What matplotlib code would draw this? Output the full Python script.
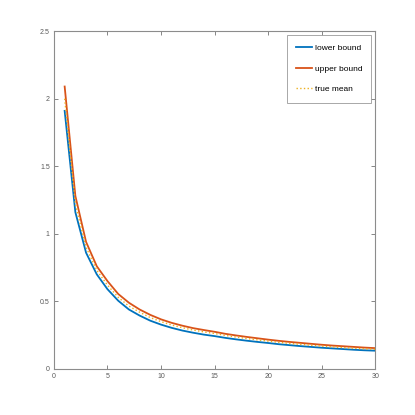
import matplotlib
matplotlib.use('Agg')
import matplotlib.pyplot as plt

# sample sizes and the three curves
n = list(range(1, 31))
lower_bound = [1.91, 1.16, 0.86, 0.70, 0.59, 0.505, 0.44, 0.395, 0.357, 0.328,
               0.304, 0.284, 0.268, 0.254, 0.243, 0.230, 0.219, 0.209, 0.200, 0.192,
               0.183, 0.176, 0.169, 0.163, 0.157, 0.152, 0.147, 0.142, 0.138, 0.135]
upper_bound = [2.09, 1.28, 0.94, 0.76, 0.65, 0.555, 0.49, 0.44, 0.40, 0.367,
               0.341, 0.320, 0.302, 0.288, 0.275, 0.260, 0.248, 0.237, 0.227, 0.217,
               0.208, 0.200, 0.193, 0.186, 0.179, 0.173, 0.168, 0.163, 0.158, 0.154]
true_mean = [2.00, 1.22, 0.90, 0.73, 0.62, 0.53, 0.465, 0.42, 0.38, 0.35,
             0.325, 0.305, 0.288, 0.274, 0.262, 0.248, 0.236, 0.225, 0.215, 0.206,
             0.197, 0.189, 0.182, 0.175, 0.169, 0.163, 0.158, 0.153, 0.149, 0.145]

x_ticks = [0, 5, 10, 15, 20, 25, 30]
y_ticks = [0, 0.5, 1, 1.5, 2, 2.5]
y_tick_labels = ['0', '0.5', '1', '1.5', '2', '2.5']

plt.rcParams['font.family'] = ['Liberation Sans', 'DejaVu Sans']

fig = plt.figure(figsize=(4.15, 4.15), dpi=100)
ax = fig.add_axes([0.130, 0.111, 0.774, 0.814])

ax.plot(n, lower_bound, color='#0072BD', lw=1.3, label='lower bound')
ax.plot(n, upper_bound, color='#D95319', lw=1.3, label='upper bound')
ax.plot(n, true_mean, color='#EDB120', lw=1.0, ls=':', label='true mean')

ax.set_xlim(0, 30)
ax.set_ylim(0, 2.5)
ax.set_xticks(x_ticks)
ax.set_xticklabels([str(t) for t in x_ticks])
ax.set_yticks(y_ticks)
ax.set_yticklabels(y_tick_labels)
ax.tick_params(direction='in', length=3, width=0.6, colors='0.45',
               labelsize=5, labelcolor='0.35', top=True, right=True, pad=3)
for s in ax.spines.values():
    s.set_color('0.55')
    s.set_linewidth(0.8)

leg = ax.legend(loc='upper right', fontsize=6, frameon=True, fancybox=False,
                edgecolor='0.5', handlelength=1.9, labelspacing=1.55,
                borderpad=1.1, handletextpad=0.3, borderaxespad=0.45)
leg.get_frame().set_linewidth(0.6)

fig.savefig('out.png', dpi=100)
